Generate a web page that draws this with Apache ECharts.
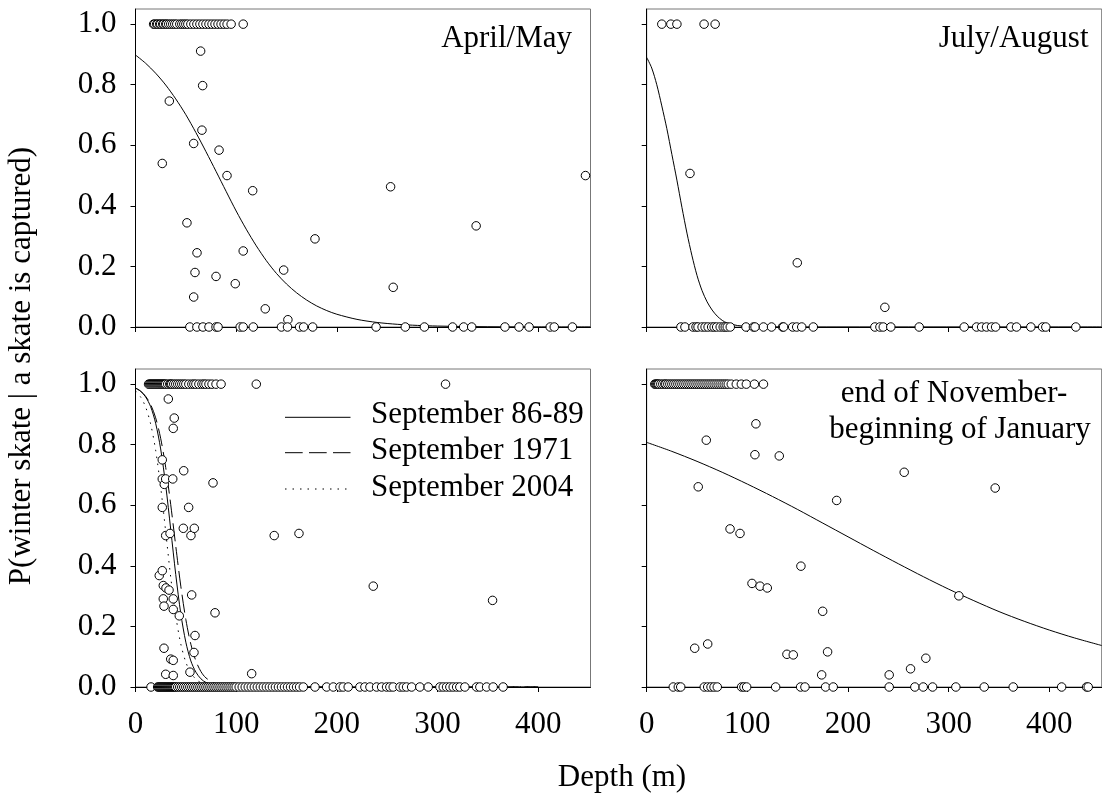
<!DOCTYPE html>
<html><head><meta charset="utf-8">
<script src="https://cdn.jsdelivr.net/npm/echarts@6/dist/echarts.min.js"></script>
<style>html,body{margin:0;padding:0;background:#fff}#c{width:1102px;height:796px}</style>
</head><body><div id="c"></div>
<script>
// ---------- tick labels ----------
const xTicks = [0, 100, 200, 300, 400];
const yTicks = [0, 0.2, 0.4, 0.6, 0.8, 1.0];
const panelTitles = ['April/May', 'July/August', 'end of November-', 'beginning of January'];
const legendNames = ['September 86-89', 'September 1971', 'September 2004'];
const xTitle = 'Depth (m)';
const yTitle = 'P(winter skate | a skate is captured)';

// ---------- April/May ----------
const aprOnes = [18, 19, 21, 22, 24, 25, 27, 28, 30, 31, 33, 35, 37, 39, 41, 44, 46, 48, 50, 52, 55, 58, 61, 64, 67, 70, 73, 76, 79, 82, 85, 88, 91, 95, 107];
const aprMid = [[26.6,0.54],[33.6,0.746],[51.1,0.344],[57.8,0.606],[57.8,0.099],[59.1,0.18],[61.1,0.245],[64.7,0.911],[66,0.65],[66.7,0.797],[80,0.167],[83,0.584],[90.9,0.5],[99.1,0.143],[107,0.251],[116.4,0.45],[128.9,0.06],[147.2,0.188],[151.4,0.024],[178.3,0.291],[253.4,0.463],[256,0.131],[338.4,0.334],[447,0.5]];
const aprZeros = [54, 61, 67, 73, 80, 82, 104, 107, 117, 145, 151, 163, 167, 176, 239, 268, 287, 315, 326, 334, 367, 381, 391, 412, 416, 434];
const aprCurve = [[0,0.898],[10,0.871],[20,0.838],[30,0.799],[40,0.753],[50,0.701],[60,0.642],[70,0.579],[80,0.514],[90,0.448],[100,0.383],[110,0.323],[120,0.268],[130,0.219],[140,0.177],[150,0.142],[160,0.113],[170,0.089],[180,0.0695],[190,0.0542],[200,0.0421],[220,0.0252],[240,0.015],[260,0.0089],[280,0.0053],[300,0.0031],[350,0.0008],[400,0.0002],[452,0.00005]];

// ---------- July/August ----------
const julOnes = [15, 24, 30, 57, 68];
const julMid = [[43,0.507],[149.6,0.212],[236.6,0.065]];
const julZeros = [34, 38, 46, 49, 51, 55, 58, 61, 64.5, 67, 69.5, 73, 76, 78, 80, 83, 98.6, 106, 107.6, 116, 124, 135, 136, 145, 149, 154, 165.5, 226.7, 231.7, 235, 242.5, 270.7, 315.4, 327.7, 332.7, 337.6, 342.6, 346.6, 361.8, 367.4, 381.6, 393.3, 396.5, 426.3];
const julCurve = [[0,0.89],[5,0.855],[10,0.80],[15,0.73],[20,0.655],[25,0.57],[30,0.485],[35,0.395],[40,0.31],[45,0.235],[50,0.17],[55,0.12],[60,0.083],[65,0.056],[70,0.036],[75,0.022],[80,0.013],[90,0.005],[100,0.002],[120,0.0003],[150,0],[452,0]];

// ---------- September ----------
const sepOnes = [13, 14, 15, 16, 17, 18, 19, 20, 21, 22, 23, 24, 25, 26, 27, 28, 29, 30, 32, 34, 35, 36, 38, 40, 42, 44, 46, 48, 50, 53, 56, 58, 60, 63, 66, 68, 70, 73, 76, 80, 85, 120, 308];
const sepMid = [[23.6,0.368],[26.6,0.75],[26.6,0.687],[26.6,0.593],[26.6,0.384],[27.6,0.335],[27.6,0.291],[28.3,0.267],[28.3,0.128],[28.6,0.669],[30,0.687],[30,0.5],[30,0.042],[30.3,0.327],[32.6,0.951],[33.3,0.32],[34.3,0.507],[35,0.092],[37,0.687],[37.5,0.854],[37.5,0.291],[37.5,0.256],[37.5,0.088],[37.5,0.038],[38.5,0.888],[43.5,0.235],[47.5,0.524],[47.9,0.714],[52.8,0.593],[54.1,0.049],[55.1,0.5],[55.8,0.304],[58.1,0.114],[58.4,0.524],[59.1,0.17],[77,0.674],[79,0.245],[115.4,0.044],[137.8,0.5],[162.4,0.507],[236.2,0.333],[354.7,0.286]];
const sepZeros = [15.4, 22, 23, 24, 25, 26, 27, 28, 29, 30, 31, 32, 33, 34, 35, 36, 37, 38, 39, 40, 42, 44, 46, 48, 50, 52, 54, 56, 58, 60, 62, 64, 66, 68, 70, 72, 74, 76, 78, 80, 82, 84, 86, 88, 90, 92, 94, 96, 98, 100, 103, 106, 109, 112, 115, 118, 121, 124, 127, 130, 133, 136, 139, 142, 145, 148, 151, 154, 157, 160, 163, 166.7, 178.3, 189.9, 196.5, 203.1, 206.4, 211.3, 222.9, 227.9, 232.9, 239.5, 244.5, 249.4, 252.7, 256, 262.7, 266, 269.3, 274.3, 282.5, 290.8, 302.4, 305.7, 309, 312.3, 315.6, 319, 322.2, 327.2, 338.8, 342.1, 348.8, 355.3, 365.2];
const sep8689Curve = [[0,0.987],[5,0.977],[10,0.958],[15,0.926],[20,0.871],[25,0.786],[30,0.666],[35,0.52],[40,0.371],[45,0.242],[50,0.148],[55,0.086],[60,0.049],[65,0.027],[70,0.015],[80,0.0045],[90,0.0013],[100,0.0004],[150,0],[400,0]];
const sep1971Curve = [[0,0.987],[5,0.977],[10,0.96],[15,0.933],[20,0.889],[25,0.821],[30,0.725],[35,0.602],[40,0.465],[45,0.333],[50,0.223],[55,0.141],[60,0.086],[65,0.051],[70,0.03],[80,0.01],[90,0.0034],[100,0.0011],[150,0],[400,0]];
const sep2004Curve = [[0,0.977],[5,0.958],[10,0.925],[15,0.869],[20,0.782],[25,0.66],[30,0.513],[35,0.362],[40,0.235],[45,0.142],[50,0.082],[55,0.046],[60,0.026],[65,0.014],[70,0.0076],[80,0.0022],[90,0.0006],[100,0.0002],[150,0],[400,0]];

// ---------- November-January ----------
const decOnes = [8, 9, 10, 11, 12, 14, 16, 18, 19, 21, 23, 25, 27, 29, 31, 33, 35, 37, 39, 41, 43, 45, 47, 49, 51, 53, 55, 57, 59, 61, 63, 65, 67, 69, 71, 73, 75, 77, 79, 81, 84, 89, 94, 99, 107, 116];
const decMid = [[47.7,0.128],[51.2,0.661],[59.2,0.815],[60.6,0.142],[82.8,0.522],[92.7,0.507],[104.6,0.342],[107.5,0.767],[108.5,0.869],[112.6,0.333],[119.8,0.327],[131.7,0.763],[139.3,0.108],[145.6,0.106],[153.2,0.399],[173.8,0.04],[174.8,0.25],[179.7,0.116],[188.7,0.616],[240.9,0.04],[255.8,0.709],[262.1,0.06],[277.3,0.095],[310.1,0.301],[346.2,0.657]];
const decZeros = [26.4, 31.4, 33.8, 57.2, 60.6, 63.9, 66.9, 70.1, 94.3, 96.6, 99.3, 128.1, 152.9, 157.2, 177.7, 185.3, 240.9, 266.4, 274.7, 284, 307.1, 335.3, 364.1, 412.2, 437, 438.6];
const decCurve = [[0,0.8077],[25,0.778],[50,0.745],[75,0.709],[100,0.670],[125,0.629],[150,0.586],[175,0.541],[200,0.496],[225,0.451],[250,0.407],[275,0.364],[300,0.323],[325,0.285],[350,0.249],[375,0.217],[400,0.188],[425,0.162],[452,0.137]];

// ---------- build ----------
const FONT = '"Liberation Serif", "Times New Roman", serif';
const FS = 31;
const grids = [
  {left: 135.5, top: 9, width: 455, height: 318},
  {left: 646.7, top: 9, width: 455, height: 318},
  {left: 135.5, top: 369, width: 455, height: 318},
  {left: 646.7, top: 369, width: 455, height: 318}
].map(g => Object.assign(g, {show: true, borderColor: '#777', borderWidth: 1, backgroundColor: 'transparent', containLabel: false}));

function xAxisDef(i, lab) {
  return {type: 'value', gridIndex: i, min: 0, max: 452,
    axisLine: {show: true, onZero: false, lineStyle: {color: '#000', width: 1}},
    axisTick: {show: true, inside: false, length: 5, lineStyle: {color: '#000', width: 1}, customValues: xTicks},
    axisLabel: {show: lab, customValues: xTicks, margin: 22, fontFamily: FONT, fontSize: FS, color: '#000'},
    splitLine: {show: false}};
}
function yAxisDef(i, lab) {
  return {type: 'value', gridIndex: i, min: 0, max: 1.05,
    axisLine: {show: true, onZero: false, lineStyle: {color: '#000', width: 1}},
    axisTick: {show: true, inside: false, length: 5, lineStyle: {color: '#000', width: 1}, customValues: yTicks},
    axisLabel: {show: lab, customValues: yTicks, margin: 19, fontFamily: FONT, fontSize: FS, color: '#000',
      formatter: v => v.toFixed(1)},
    splitLine: {show: false}};
}

function pts(ones, mid, zeros) {
  return ones.map(d => [d, 1]).concat(mid, zeros.map(d => [d, 0]));
}
function scatter(i, data) {
  return {type: 'scatter', xAxisIndex: i, yAxisIndex: i, data: data, symbol: 'circle', symbolSize: 8.5,
    itemStyle: {color: '#fff', borderColor: '#000', borderWidth: 1, opacity: 1}, clip: false, z: 5, silent: true};
}
function curve(i, name, data, type) {
  return {type: 'line', name: name, xAxisIndex: i, yAxisIndex: i, data: data, symbol: 'none', showSymbol: false,
    smooth: 0.3, lineStyle: {color: '#000', width: 1, type: type, cap: 'butt'}, z: 2, silent: true};
}

const series = [
  curve(0, 'apr', aprCurve, 'solid'),
  curve(1, 'jul', julCurve, 'solid'),
  curve(2, legendNames[0], sep8689Curve, 'solid'),
  curve(2, legendNames[1], sep1971Curve, [18, 6]),
  curve(2, legendNames[2], sep2004Curve, [1.5, 5.5]),
  curve(3, 'dec', decCurve, 'solid'),
  scatter(0, pts(aprOnes, aprMid, aprZeros)),
  scatter(1, pts(julOnes, julMid, julZeros)),
  scatter(2, pts(sepOnes, sepMid, sepZeros)),
  scatter(3, pts(decOnes, decMid, decZeros))
];

function txt(s, x, y, align, rot) {
  return {type: 'text', x: x, y: y, rotation: rot || 0, z: 10,
    style: {text: s, font: FS + 'px ' + FONT, fill: '#000', textAlign: align, align: align,
      textVerticalAlign: 'middle', verticalAlign: 'middle'}};
}
function legLine(y, dash) {
  return {type: 'line', shape: {x1: 285, y1: y, x2: 350.5, y2: y}, z: 10,
    style: {stroke: '#000', lineWidth: 1, lineDash: dash}};
}

const graphic = [
  txt(yTitle, 22, 366, 'center', Math.PI / 2),
  txt(xTitle, 622, 778, 'center'),
  txt(panelTitles[0], 572, 39, 'right'),
  txt(panelTitles[1], 1088.5, 39, 'right'),
  txt(panelTitles[2], 954, 394, 'center'),
  txt(panelTitles[3], 960, 430, 'center'),
  legLine(417.3, null),
  legLine(452.7, [17.7, 6.3]),
  legLine(489, [1.5, 6]),
  txt(legendNames[0], 371, 415, 'left'),
  txt(legendNames[1], 371, 451, 'left'),
  txt(legendNames[2], 371, 488, 'left')
];

const chart = echarts.init(document.getElementById('c'), null, {renderer: 'canvas'});
chart.setOption({
  animation: false,
  backgroundColor: '#fff',
  grid: grids,
  xAxis: [xAxisDef(0, false), xAxisDef(1, false), xAxisDef(2, true), xAxisDef(3, true)],
  yAxis: [yAxisDef(0, true), yAxisDef(1, false), yAxisDef(2, true), yAxisDef(3, false)],
  series: series,
  graphic: graphic
});
</script>
</body></html>
